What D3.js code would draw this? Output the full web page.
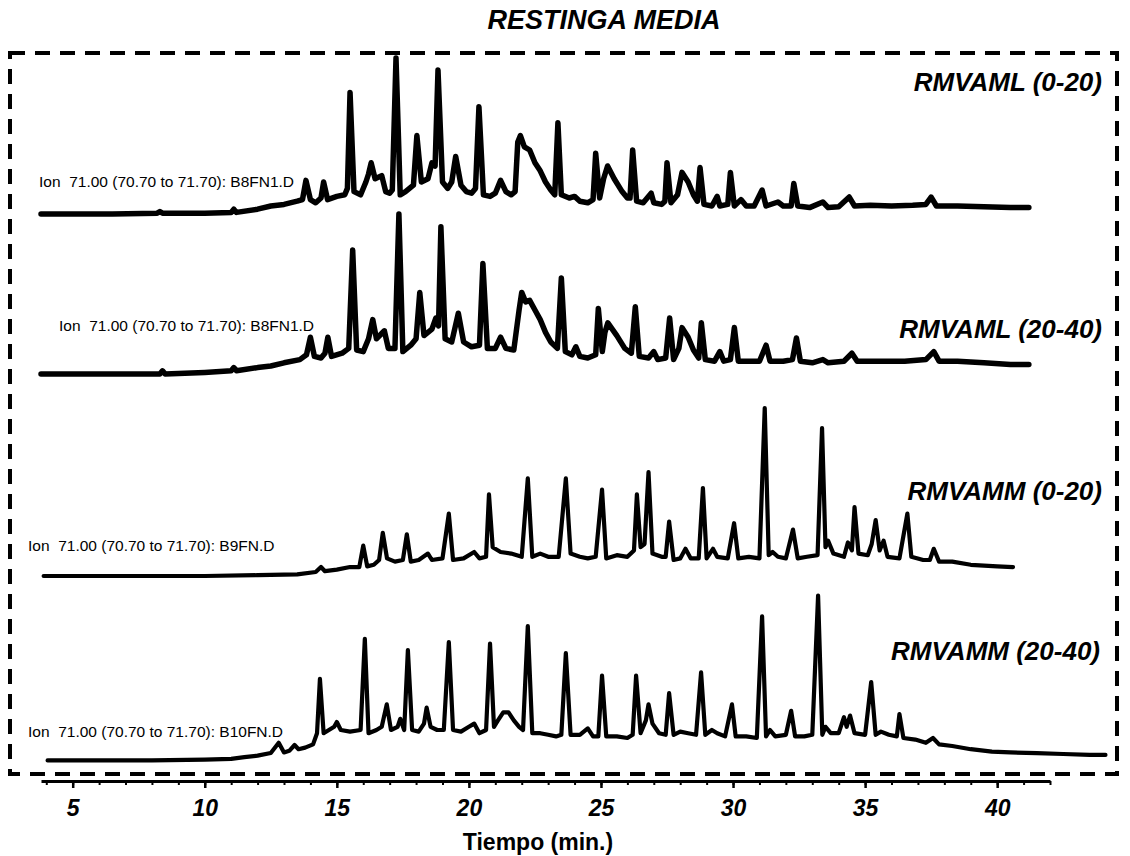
<!DOCTYPE html>
<html>
<head>
<meta charset="utf-8">
<script src="https://cdn.jsdelivr.net/npm/d3@7"></script>
<style>
  body { margin: 0; background: #fff; }
  text { font-family: "Liberation Sans", Arial, sans-serif; }
  .ion { white-space: pre; }
</style>
</head>
<body>
<script>
// chart title and series names
const title = "RESTINGA MEDIA";
const sampleNames = ["RMVAML (0-20)", "RMVAML (20-40)", "RMVAMM (0-20)", "RMVAMM (20-40)"];
const ionLabels = [
  "Ion  71.00 (70.70 to 71.70): B8FN1.D",
  "Ion  71.00 (70.70 to 71.70): B8FN1.D",
  "Ion  71.00 (70.70 to 71.70): B9FN.D",
  "Ion  71.00 (70.70 to 71.70): B10FN.D"
];
const majorTicks = [5, 10, 15, 20, 25, 30, 35, 40];
const minorTicks = d3.range(4, 43);
const xLabel = "Tiempo (min.)";

// chromatograms: [time (min), relative abundance]
const traceRMVAML020 = [[3.8,0],[5,0],[6.5,0],[8.2,0.5],[8.3,1.5],[8.4,0.5],[10,0.5],[11,1],[11.1,3],[11.2,1],[12,3],[12.5,5],[13,6],[13.5,8],[13.7,9],[13.83,21],[14.0,9],[14.2,7],[14.4,10],[14.5,20],[14.65,9],[15.0,11],[15.3,12],[15.4,16],[15.5,76],[15.65,14],[15.9,12],[16.1,20],[16.2,25],[16.3,32],[16.45,22],[16.7,24],[16.85,14],[17.0,13],[17.1,15],[17.24,97.5],[17.4,12],[17.6,14],[17.9,18],[18.03,49],[18.2,20],[18.45,22],[18.6,32],[18.72,30],[18.83,90],[19.0,20],[19.2,16],[19.35,20],[19.5,36],[19.7,18],[19.9,14],[20.1,13],[20.25,16],[20.38,67],[20.55,12],[20.8,11],[21.0,13],[21.2,21],[21.4,14],[21.6,12],[21.75,14],[21.85,45],[21.95,49],[22.1,42],[22.3,40],[22.5,32],[22.7,27],[22.9,20],[23.1,15],[23.25,12],[23.37,57],[23.5,12],[23.8,10],[24.0,11],[24.2,8],[24.5,7],[24.7,9],[24.8,38],[24.95,10],[25.1,22],[25.25,30],[25.5,22],[25.8,14],[26.0,10],[26.1,10],[26.2,40],[26.35,8],[26.6,7],[26.9,13],[27.0,7],[27.3,6],[27.42,8],[27.5,32],[27.65,7],[27.9,12],[28.07,26],[28.3,20],[28.5,12],[28.65,8],[28.75,29],[28.9,6],[29.2,5],[29.4,11],[29.5,5],[29.8,6],[29.9,26],[30.05,5],[30.3,9],[30.5,5],[30.8,5],[31.1,15],[31.25,5],[31.7,7.5],[31.9,5],[32.2,5],[32.3,19],[32.45,5],[32.9,4],[33.4,7.5],[33.6,4],[34.0,4.5],[34.4,10.6],[34.6,5],[35.2,5.5],[36.0,5],[36.8,5.5],[37.3,6],[37.5,10.6],[37.7,5],[38.5,5],[39.5,4.5],[40.5,4],[41.2,4]];

const traceRMVAML2040 = [[3.8,0],[5.5,0],[7,0],[8.3,0],[8.4,2],[8.5,0],[10,1],[11,2],[11.1,4],[11.2,2],[12,4],[12.5,5],[13,7],[13.6,9],[13.85,12],[14.0,23],[14.15,11],[14.4,10],[14.55,13],[14.66,23],[14.8,11],[15.2,13],[15.45,16],[15.6,77.5],[15.75,15],[16.0,14],[16.2,22],[16.36,34],[16.5,22],[16.8,27],[16.95,16],[17.2,16],[17.35,100],[17.5,14],[17.8,18],[18.0,22],[18.14,51],[18.3,24],[18.6,28],[18.75,35],[18.85,30],[18.94,92],[19.1,22],[19.35,20],[19.6,38],[19.8,20],[20.1,17],[20.4,18],[20.53,69],[20.7,16],[21.0,16],[21.2,23],[21.4,16],[21.7,15],[21.9,40],[22.0,51],[22.15,45],[22.3,46],[22.5,40],[22.7,34],[22.9,26],[23.1,20],[23.35,16],[23.5,60],[23.65,14],[23.9,12],[24.05,17],[24.2,11],[24.5,10],[24.8,12],[24.9,41],[25.05,14],[25.15,26],[25.26,32],[25.6,24],[25.9,16],[26.15,13],[26.3,42],[26.45,11],[26.8,10],[27.0,14],[27.15,9],[27.45,10],[27.6,35],[27.75,9],[27.95,16],[28.07,29],[28.3,23],[28.5,15],[28.7,10],[28.8,32],[28.95,9],[29.3,8],[29.5,14],[29.65,8],[29.9,9],[30.05,29],[30.2,8],[30.6,8],[31.0,8],[31.25,18],[31.4,8],[31.9,8],[32.25,9],[32.4,22.5],[32.55,8],[33.0,7],[33.4,9],[33.6,7],[34.2,8],[34.5,13],[34.7,8],[35.5,8],[36.5,8],[37.3,9],[37.6,14],[37.8,8],[38.5,8],[39.5,7],[40.5,6],[41.2,6]];

const traceRMVAMM020 = [[3.9,0],[6,0],[8,0],[10,0],[12,0.5],[13.5,1],[14.2,2.5],[14.4,5.6],[14.55,3],[15.0,4],[15.5,5.6],[15.85,5.6],[16.0,19],[16.15,6],[16.4,7],[16.6,10],[16.74,27],[16.9,11],[17.2,9],[17.5,10],[17.65,26],[17.8,9],[18.1,10],[18.45,14],[18.6,10],[19.0,11],[19.24,39],[19.4,10],[19.8,11],[20.2,15],[20.4,11],[20.65,12],[20.76,51],[20.9,18],[21.2,15],[21.6,14],[22.0,12],[22.23,61],[22.4,12],[22.7,14],[23.0,12],[23.4,12],[23.67,61],[23.85,14],[24.2,12],[24.5,11],[24.8,12],[25.04,54],[25.2,11],[25.6,13],[26.0,12],[26.25,16],[26.36,51],[26.5,18],[26.65,20],[26.8,65],[26.95,14],[27.3,12],[27.45,12],[27.58,34],[27.75,10],[28.0,11],[28.2,17],[28.4,11],[28.7,11],[28.86,55],[29.0,11],[29.24,17],[29.4,12],[29.8,11],[30.04,33],[30.2,11],[30.6,12],[31.0,11],[31.2,105],[31.35,13],[31.5,15],[31.7,12],[32.0,11],[32.27,29],[32.45,11],[32.8,12],[33.2,13],[33.37,92.5],[33.5,18],[33.6,22],[33.8,14],[34.2,12],[34.35,21],[34.5,16],[34.6,43],[34.75,14],[35.1,13],[35.25,20],[35.4,35],[35.55,16],[35.7,22],[35.85,12],[36.3,11],[36.6,39],[36.75,12],[37.2,10],[37.45,10],[37.6,17],[37.8,9],[38.3,9],[39.0,7],[40.0,6],[40.6,5.6]];

const traceRMVAMM2040 = [[4.05,1],[6,1],[8,1],[10,1.5],[11,2],[11.5,3],[12,4],[12.5,5.6],[12.8,12],[13.0,6],[13.2,7],[13.4,10.6],[13.55,8],[13.8,9],[14.1,11],[14.25,18],[14.36,52],[14.5,18],[14.7,20],[14.9,22],[15.0,25],[15.15,20],[15.5,19],[15.9,20],[16.06,77],[16.2,18],[16.5,20],[16.7,22],[16.89,36],[17.05,20],[17.3,22],[17.4,27],[17.55,20],[17.69,70],[17.85,20],[18.1,19],[18.3,24],[18.4,34],[18.55,22],[18.8,20],[19.05,20],[19.24,75],[19.4,20],[19.7,19],[20.0,22],[20.2,24],[20.4,18],[20.65,20],[20.8,74],[20.95,22],[21.1,26],[21.3,31],[21.5,31],[21.7,26],[21.9,22],[22.05,20],[22.23,85],[22.4,18],[22.7,18],[23.0,17],[23.3,16],[23.5,17],[23.67,68],[23.85,17],[24.2,17],[24.5,21],[24.7,16],[24.9,16],[25.04,54],[25.2,16],[25.6,16],[26.0,15],[26.2,17],[26.33,54],[26.5,18],[26.7,26],[26.8,36],[26.95,24],[27.2,18],[27.45,17],[27.58,43],[27.75,17],[28.0,19],[28.3,18],[28.6,17],[28.79,56],[28.95,17],[29.2,20],[29.4,18],[29.7,16],[29.96,36],[30.1,16],[30.5,16],[30.9,15],[31.1,91],[31.25,16],[31.4,20],[31.6,16],[32.0,17],[32.2,32],[32.35,16],[32.7,16],[33.0,17],[33.22,104],[33.38,17],[33.5,22],[33.7,18],[34.0,18],[34.2,28],[34.3,22],[34.43,29],[34.6,18],[35.0,17],[35.23,50],[35.4,17],[35.6,19],[35.9,17],[36.2,16],[36.3,30],[36.45,15],[36.9,14],[37.3,12],[37.57,15],[37.8,11],[38.3,10],[39.0,8],[39.8,6.5],[40.5,6],[41.5,5.5],[42.5,5],[43.5,4.5],[44.1,4.4]];

const traces = [traceRMVAML020, traceRMVAML2040, traceRMVAMM020, traceRMVAMM2040];

const width = 1130, height = 856;
// zero line of each chromatogram, and its line weight
const baseY = [214, 374, 576, 762];
const lineW = [5.5, 5.5, 4.2, 4.2];
const ionPos = [[39, 187], [59, 331], [28, 551], [28, 737]];
const namePos = [[1102, 91], [1102, 338], [1102, 500], [1100, 660]];

const svg = d3.select("body")
  .append("svg")
  .attr("width", width)
  .attr("height", height)
  .attr("viewBox", [0, 0, width, height]);

const x = d3.scaleLinear()
  .domain([3.8, 42])
  .range([41, 1050]);

// abundance -> pixel height, same for all four runs
const amp = d3.scaleLinear()
  .domain([0, 100])
  .range([0, 160]);

// title
svg.append("text")
  .attr("x", 604)
  .attr("y", 29)
  .attr("text-anchor", "middle")
  .attr("font-size", "27px")
  .attr("font-weight", "bold")
  .attr("font-style", "italic")
  .text(title);

// dashed frame
svg.append("rect")
  .attr("x", 10)
  .attr("y", 53)
  .attr("width", 1107)
  .attr("height", 721)
  .attr("fill", "none")
  .attr("stroke", "#000")
  .attr("stroke-width", 4)
  .attr("stroke-dasharray", "15,10");

// chromatograms
traces.forEach((data, i) => {
  const line = d3.line()
    .x((d) => x(d[0]))
    .y((d) => baseY[i] - amp(d[1]));

  svg.append("path")
    .datum(data)
    .attr("d", line)
    .attr("fill", "none")
    .attr("stroke", "#000")
    .attr("stroke-width", lineW[i])
    .attr("stroke-linejoin", "round")
    .attr("stroke-linecap", "round");

  svg.append("text")
    .attr("class", "ion")
    .attr("x", ionPos[i][0])
    .attr("y", ionPos[i][1])
    .attr("font-size", "15.5px")
    .text(ionLabels[i]);

  svg.append("text")
    .attr("x", namePos[i][0])
    .attr("y", namePos[i][1])
    .attr("text-anchor", "end")
    .attr("font-size", "26px")
    .attr("font-weight", "bold")
    .attr("font-style", "italic")
    .text(sampleNames[i]);
});

// x axis
const axisY = 781;
svg.append("g")
  .attr("transform", `translate(0,${axisY})`)
  .call(d3.axisBottom(x).tickValues(minorTicks).tickSize(4).tickSizeOuter(0).tickFormat(""))
  .call((g) => g.select(".domain").attr("stroke-width", 3))
  .call((g) => g.selectAll(".tick line").attr("stroke-width", 2));

svg.append("g")
  .attr("transform", `translate(0,${axisY})`)
  .call(d3.axisBottom(x).tickValues(majorTicks).tickSize(7).tickPadding(12))
  .call((g) => g.select(".domain").remove())
  .call((g) => g.selectAll(".tick line").attr("stroke-width", 2.5))
  .call((g) => g.selectAll(".tick text")
    .attr("font-size", "23px")
    .attr("font-weight", "bold")
    .attr("font-style", "italic")
    .attr("font-family", "Liberation Sans, Arial, sans-serif"));

svg.append("text")
  .attr("x", 538)
  .attr("y", 850)
  .attr("text-anchor", "middle")
  .attr("font-size", "23px")
  .attr("font-weight", "bold")
  .text(xLabel);
</script>
</body>
</html>
